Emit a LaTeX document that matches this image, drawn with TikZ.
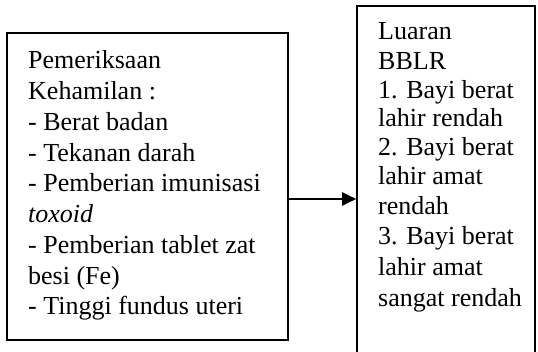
\documentclass[tikz,border=0pt]{standalone}
\usepackage{fontspec}
\setmainfont{Liberation Serif}
\usetikzlibrary{arrows.meta}
\begin{document}
\begin{tikzpicture}[x=1pt,y=-1pt,
  boxstyle/.style={draw=black,line width=1.6pt,inner sep=0pt},
  txt/.style={anchor=base west,inner sep=0pt,font=\fontsize{26}{30}\selectfont},
  conn/.style={line width=2.2pt,-{Triangle[length=14pt,width=13pt]}}]
\useasboundingbox (0,0) rectangle (538,352);
% left box
\node[boxstyle,minimum width=281pt,minimum height=307pt] (leftbox) at (147.5,186.5) {};
\node[txt] (l1) at (28,69) {Pemeriksaan};
\node[txt] (l2) at (28,99.75) {Kehamilan :};
\node[txt] (l3) at (28,130.5) {- Berat badan};
\node[txt] (l4) at (28,161.25) {- Tekanan darah};
\node[txt] (l5) at (28,192) {- Pemberian imunisasi};
\node[txt] (l6) at (28,222.75) {\itshape toxoid};
\node[txt] (l7) at (28,253.5) {- Pemberian tablet zat};
\node[txt] (l8) at (28,284.25) {besi (Fe)};
\node[txt] (l9) at (28,315) {- Tinggi fundus uteri};
% right box
\node[boxstyle,minimum width=178pt,minimum height=352pt] (rightbox) at (446,182) {};
\node[txt] (r1) at (378,40) {Luaran};
\node[txt] (r2) at (378,70) {BBLR};
\node[txt] (r3) at (378,98.5) {1. Bayi berat};
\node[txt] (r4) at (378,127) {lahir rendah};
\node[txt] (r5) at (378,156) {2. Bayi berat};
\node[txt] (r6) at (378,185) {lahir amat};
\node[txt] (r7) at (378,214.5) {rendah};
\node[txt] (r8) at (378,245) {3. Bayi berat};
\node[txt] (r9) at (378,275.5) {lahir amat};
\node[txt] (r10) at (378,306.5) {sangat rendah};
% arrow
\coordinate (arrowlevel) at (0,199);
\draw[conn] (leftbox.east |- arrowlevel) -- (rightbox.west |- arrowlevel);
\end{tikzpicture}
\end{document}
